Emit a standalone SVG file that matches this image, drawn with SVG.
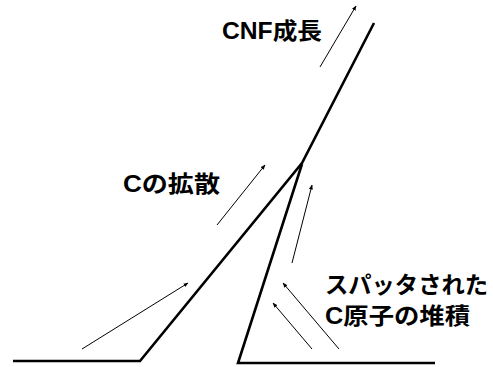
<svg xmlns="http://www.w3.org/2000/svg" width="493" height="367" viewBox="0 0 493 367">
<style>
.thick{fill:none;stroke:#000;stroke-width:2.6;stroke-linejoin:miter}
.arr{fill:none;stroke:#000;stroke-width:1;marker-end:url(#ah)}
.lbl{font-family:"Liberation Sans","Noto Sans CJK JP",sans-serif;font-weight:bold;font-size:23px;fill:#000}
</style>
<defs>
<marker id="ah" viewBox="0 0 10 10" refX="9" refY="5" markerWidth="5" markerHeight="5" orient="auto" markerUnits="userSpaceOnUse">
<path d="M0,1 L10,5 L0,9 Z" fill="#000"/>
</marker>
</defs>
<rect width="493" height="367" fill="#fff"/>
<g id="structure">
<polyline class="thick" points="13,361 140,361 302,163 374,23"/>
<polyline class="thick" points="435,363 238,363 302,164"/>
</g>
<g id="connectors">
<line class="arr" x1="320" y1="67" x2="356" y2="6"/>
<line class="arr" x1="217" y1="225" x2="265" y2="165"/>
<line class="arr" x1="82" y1="349" x2="188" y2="283"/>
<line class="arr" x1="292" y1="263" x2="312" y2="185"/>
<line class="arr" x1="312" y1="349" x2="273" y2="303"/>
<line class="arr" x1="339" y1="349" x2="283" y2="283"/>
</g>
<g id="label-cnf"><text class="lbl" x="222" y="39" textLength="100" lengthAdjust="spacingAndGlyphs">CNF成長</text></g>
<g id="label-diff"><text class="lbl" x="123" y="192" textLength="97" lengthAdjust="spacingAndGlyphs">Cの拡散</text></g>
<g id="label-sputter">
<text class="lbl" x="325" y="293" textLength="163" lengthAdjust="spacingAndGlyphs">スパッタされた</text>
<text class="lbl" x="325" y="324" textLength="145" lengthAdjust="spacingAndGlyphs">C原子の堆積</text>
</g>
</svg>
